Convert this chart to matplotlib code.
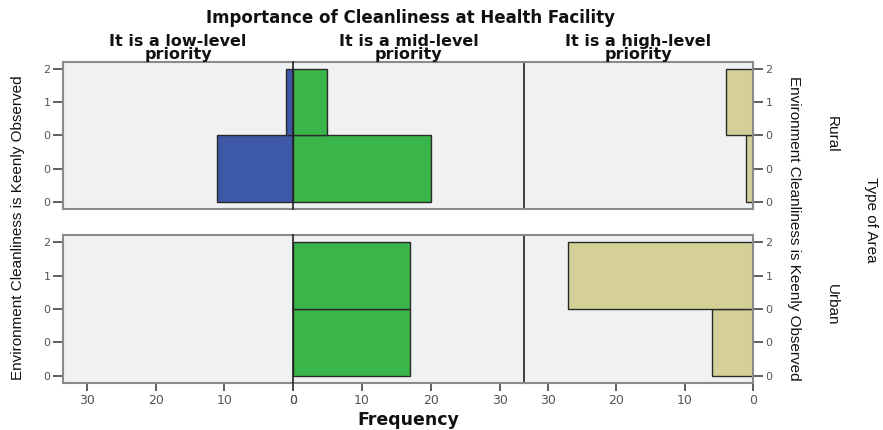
import matplotlib
matplotlib.use("Agg")
import matplotlib.pyplot as plt

# Frequencies per bin of "Environment Cleanliness is Keenly Observed"
# each list is [lower bin (0-1), upper bin (1-2)]
bin_centers = [0.5, 1.5]
columns = ["It is a low-level\npriority", "It is a mid-level\npriority", "It is a high-level\npriority"]
rows = ["Rural", "Urban"]
rural = [[11, 1], [20, 5], [1, 4]]
urban = [[0, 0], [17, 17], [6, 27]]
colors = ["#3E58A8", "#3AB54A", "#D4D098"]

ytick_pos = [0, 0.5, 1, 1.5, 2]
ytick_lab = ["0", "0", "0", "1", "2"]
xticks = [0, 10, 20, 30]

W, H = 883, 430
fig = plt.figure(figsize=(W / 100, H / 100), dpi=100)

# panel boxes in pixels
col_x = [(63, 293), (293, 524), (524, 753)]
row_y = [(62, 209), (235, 383)]
side_font = ["Liberation Sans", "DejaVu Sans"]
tick_col = "#555555"
box_col = "#8a8a8a"

def px_axes(x0, x1, y0, y1):
    return fig.add_axes([x0 / W, 1 - y1 / H, (x1 - x0) / W, (y1 - y0) / H])

for r, data in enumerate([rural, urban]):
    for c in range(3):
        ax = px_axes(col_x[c][0], col_x[c][1], row_y[r][0], row_y[r][1])
        ax.set_facecolor("#F0F1F3")
        ax.barh(bin_centers, data[c], height=1.0, color=colors[c],
                edgecolor="#2a2a2a", linewidth=1.0, zorder=2)
        ax.set_ylim(-0.105, 2.105)
        if c == 1:
            ax.set_xlim(0, 33.5)
        else:
            ax.set_xlim(33.5, 0)
        for s in ax.spines.values():
            s.set_color(box_col)
            s.set_linewidth(1.5)
        # dark separators between the three columns
        if c == 1:
            ax.spines["left"].set_color("#222222")
            ax.spines["left"].set_linewidth(1.2)
            ax.spines["left"].set_zorder(3)
            ax.spines["right"].set_visible(False)
        if c == 2:
            ax.spines["left"].set_color("#222222")
            ax.spines["left"].set_linewidth(1.2)
        if c == 0:
            ax.spines["right"].set_visible(False)
        # y ticks
        ax.set_yticks(ytick_pos)
        ax.set_yticklabels(ytick_lab)
        ax.tick_params(axis="y", length=7, width=1.2, color="#444444",
                       labelsize=8, labelcolor=tick_col, pad=2)
        if c == 0:
            ax.tick_params(axis="y", left=True, right=False, labelleft=True, labelright=False)
        elif c == 2:
            ax.tick_params(axis="y", left=False, right=True, labelleft=False, labelright=True)
        else:
            ax.tick_params(axis="y", left=False, right=False, labelleft=False, labelright=False)
        # x ticks
        ax.set_xticks(xticks)
        if r == 1:
            ax.tick_params(axis="x", length=6, width=1.2, color="#444444",
                           labelsize=9, labelcolor=tick_col, pad=2)
        else:
            ax.tick_params(axis="x", bottom=False, labelbottom=False)
        if r == 0:
            cx = (col_x[c][0] + col_x[c][1]) / 2
            fig.text(cx / W, 1 - 48 / H, columns[c], ha="center", va="center",
                     fontsize=11.5, fontweight="bold", linespacing=0.8, color="#111111")

fig.text(410 / W, 1 - 18 / H, "Importance of Cleanliness at Health Facility",
         ha="center", va="center", fontsize=12, fontweight="bold", color="#111111")
fig.text(408 / W, 1 - 420 / H, "Frequency", ha="center", va="center",
         fontsize=12.5, fontweight="bold", color="#111111")

ylabel = "Environment Cleanliness is Keenly Observed"
fig.text(18 / W, 1 - 228 / H, ylabel, rotation=90, ha="center", va="center",
         fontsize=11, family=side_font, color="#111111")
fig.text(794 / W, 1 - 228 / H, ylabel, rotation=-90, ha="center", va="center",
         fontsize=11, family=side_font, color="#111111")
fig.text(832 / W, 1 - 134 / H, rows[0], rotation=-90, ha="center", va="center",
         fontsize=11, family=side_font, color="#111111")
fig.text(832 / W, 1 - 305 / H, rows[1], rotation=-90, ha="center", va="center",
         fontsize=11, family=side_font, color="#111111")
fig.text(871 / W, 1 - 220 / H, "Type of Area", rotation=-90, ha="center", va="center",
         fontsize=11, family=side_font, color="#111111")

fig.savefig("out.png", dpi=100)
